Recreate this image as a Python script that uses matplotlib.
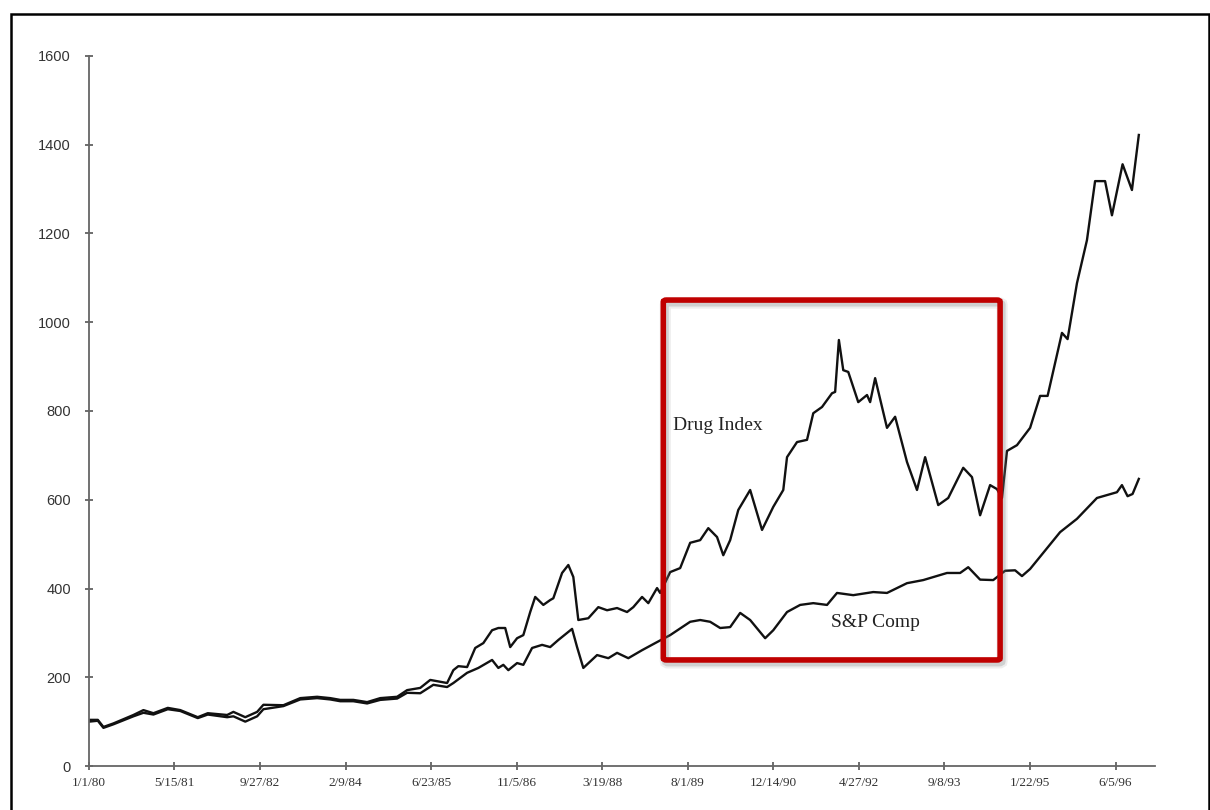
import matplotlib.pyplot as plt
import matplotlib.transforms as mtransforms
from matplotlib.patches import Rectangle, FancyBboxPatch
import pandas as pd

# Drug index vs S&P composite, 1/1/80 = 100 (x in decimal years)
drug_years = [1980.00, 1980.14, 1980.23, 1980.39, 1980.71, 1980.87, 1981.03, 1981.26, 1981.46,
              1981.74, 1981.90, 1982.21, 1982.31, 1982.50, 1982.69, 1982.79, 1983.11, 1983.38,
              1983.65, 1983.86, 1984.02, 1984.23, 1984.45, 1984.66, 1984.93, 1985.09, 1985.30,
              1985.46, 1985.73, 1985.83, 1985.91, 1986.05, 1986.18, 1986.31, 1986.45, 1986.55,
              1986.66, 1986.74, 1986.85, 1986.95, 1987.06, 1987.14, 1987.27, 1987.38, 1987.43,
              1987.57, 1987.67, 1987.75, 1987.83, 1987.99, 1988.15, 1988.29, 1988.45, 1988.61,
              1988.71, 1988.85, 1988.95, 1989.09, 1989.14, 1989.30, 1989.46, 1989.62, 1989.78,
              1989.91, 1990.05, 1990.15, 1990.26, 1990.39, 1990.58, 1990.77, 1990.95, 1991.11,
              1991.17, 1991.33, 1991.49, 1991.59, 1991.73, 1991.89, 1991.94, 1992.00, 1992.07,
              1992.15, 1992.31, 1992.45, 1992.50, 1992.58, 1992.77, 1992.90, 1993.09, 1993.25,
              1993.38, 1993.59, 1993.75, 1993.99, 1994.13, 1994.26, 1994.42, 1994.53, 1994.61,
              1994.69, 1994.85, 1995.06, 1995.22, 1995.34, 1995.57, 1995.66, 1995.81, 1995.97,
              1996.10, 1996.26, 1996.37, 1996.54, 1996.69, 1996.80]
drug_index = [104, 104, 88, 96, 115, 126, 119, 131, 126,
              110, 119, 115, 122, 110, 122, 138, 137, 153,
              156, 153, 149, 149, 144, 153, 156, 171, 176,
              194, 187, 216, 225, 223, 266, 277, 306, 311,
              311, 268, 288, 295, 347, 381, 363, 374, 378,
              435, 453, 426, 329, 333, 358, 351, 356, 347,
              358, 381, 367, 401, 390, 437, 446, 503, 509,
              536, 516, 475, 509, 577, 622, 532, 584, 622,
              696, 730, 735, 795, 809, 840, 843, 960, 892,
              888, 820, 836, 820, 874, 762, 787, 685, 622,
              696, 588, 604, 672, 651, 565, 633, 624, 604,
              710, 723, 762, 834, 834, 976, 962, 1088, 1185,
              1318, 1318, 1241, 1356, 1298, 1422]

sp_years = [1980.00, 1980.14, 1980.23, 1980.39, 1980.71, 1980.87, 1981.03, 1981.26, 1981.46,
            1981.74, 1981.90, 1982.21, 1982.31, 1982.50, 1982.69, 1982.79, 1983.11, 1983.38,
            1983.65, 1983.86, 1984.02, 1984.23, 1984.45, 1984.66, 1984.93, 1985.09, 1985.30,
            1985.51, 1985.73, 1985.83, 1986.05, 1986.23, 1986.45, 1986.55, 1986.63, 1986.71,
            1986.85, 1986.95, 1987.09, 1987.25, 1987.38, 1987.51, 1987.73, 1987.81, 1987.91,
            1988.13, 1988.31, 1988.45, 1988.63, 1988.85, 1989.06, 1989.30, 1989.62, 1989.78,
            1989.94, 1990.10, 1990.26, 1990.42, 1990.58, 1990.82, 1990.95, 1991.17, 1991.38,
            1991.59, 1991.81, 1991.97, 1992.23, 1992.55, 1992.77, 1993.09, 1993.35, 1993.73,
            1993.94, 1994.07, 1994.26, 1994.47, 1994.66, 1994.82, 1994.93, 1995.06, 1995.54,
            1995.81, 1996.13, 1996.45, 1996.53, 1996.62, 1996.70, 1996.80]
sp_comp = [100, 102, 86, 94, 112, 120, 116, 128, 124,
           108, 116, 110, 112, 100, 112, 128, 135, 150,
           153, 150, 146, 146, 141, 149, 152, 165, 164,
           183, 178, 187, 210, 221, 239, 221, 228, 216,
           232, 228, 266, 273, 268, 284, 309, 268, 221,
           250, 243, 255, 243, 261, 277, 295, 325, 329,
           325, 311, 313, 345, 329, 288, 306, 347, 363,
           367, 363, 390, 385, 392, 390, 412, 419, 435,
           435, 448, 420, 419, 440, 441, 428, 444, 527,
           557, 604, 617, 633, 608, 613, 647]

tick_labels = ['1/1/80', '5/15/81', '9/27/82', '2/9/84', '6/23/85', '11/5/86', '3/19/88',
               '8/1/89', '12/14/90', '4/27/92', '9/8/93', '1/22/95', '6/5/96']
y_ticks = [0, 200, 400, 600, 800, 1000, 1200, 1400, 1600]

# highlighted period (years) and index range
box_years = (1989.19, 1994.58)
box_values = (239, 1050)


def to_year(label):
    d = pd.to_datetime(label, format='%m/%d/%y')
    return d.year + (d.dayofyear - 1) / 365.25


fig = plt.figure(figsize=(12.1, 8.1), dpi=100)
ax = fig.add_axes([0.0736, 0.0543, 0.881, 0.8766])

ax.plot(drug_years, drug_index, color='#111111', lw=1.7)
ax.plot(sp_years, sp_comp, color='#111111', lw=1.7)

ax.text(1989.35, 768, 'Drug Index', family='Liberation Serif', fontsize=14, color='#222222',
        va='center', ha='left')
ax.text(1991.88, 324, 'S&P Comp', family='Liberation Serif', fontsize=14, color='#222222',
        va='center', ha='left')

ax.set_xlim(1980.0, 1997.06)
ax.set_ylim(0, 1600)
ax.set_xticks([to_year(t) for t in tick_labels])
ax.set_xticklabels(tick_labels, family='Liberation Serif', fontsize=9.5, color='#333333')
ax.set_yticks(y_ticks)
ax.set_yticklabels([str(v) for v in y_ticks], family='Liberation Sans', fontsize=10.5,
                   color='#333333')
ax.tick_params(axis='both', direction='inout', length=6, width=1.2, color='#555555')
ax.tick_params(axis='y', pad=10)
ax.tick_params(axis='x', pad=5)
for side in ('top', 'right'):
    ax.spines[side].set_visible(False)
for side in ('left', 'bottom'):
    ax.spines[side].set_color('#666666')
    ax.spines[side].set_linewidth(1.3)

# red highlight box with a soft drop shadow
box_xy = (box_years[0], box_values[0])
box_w = box_years[1] - box_years[0]
box_h = box_values[1] - box_values[0]
shadow_tr = mtransforms.offset_copy(ax.transData, fig=fig, x=2, y=-3, units='dots')
for lw, alpha in ((8, 0.12), (5, 0.25)):
    ax.add_patch(FancyBboxPatch(box_xy, box_w, box_h,
                                boxstyle='round,pad=0,rounding_size=0.05', mutation_aspect=80,
                                fill=False, edgecolor='#777777', lw=lw, alpha=alpha,
                                transform=shadow_tr, zorder=4))
ax.add_patch(FancyBboxPatch(box_xy, box_w, box_h,
                            boxstyle='round,pad=0,rounding_size=0.05', mutation_aspect=80,
                            fill=False, edgecolor='#c00000', lw=4, zorder=5))

# outer frame
fig.add_artist(Rectangle((0.0095, -0.05), 0.99, 1.033, transform=fig.transFigure,
                         fill=False, edgecolor='black', lw=1.8))

fig.savefig('out.png', dpi=100, facecolor='white')
